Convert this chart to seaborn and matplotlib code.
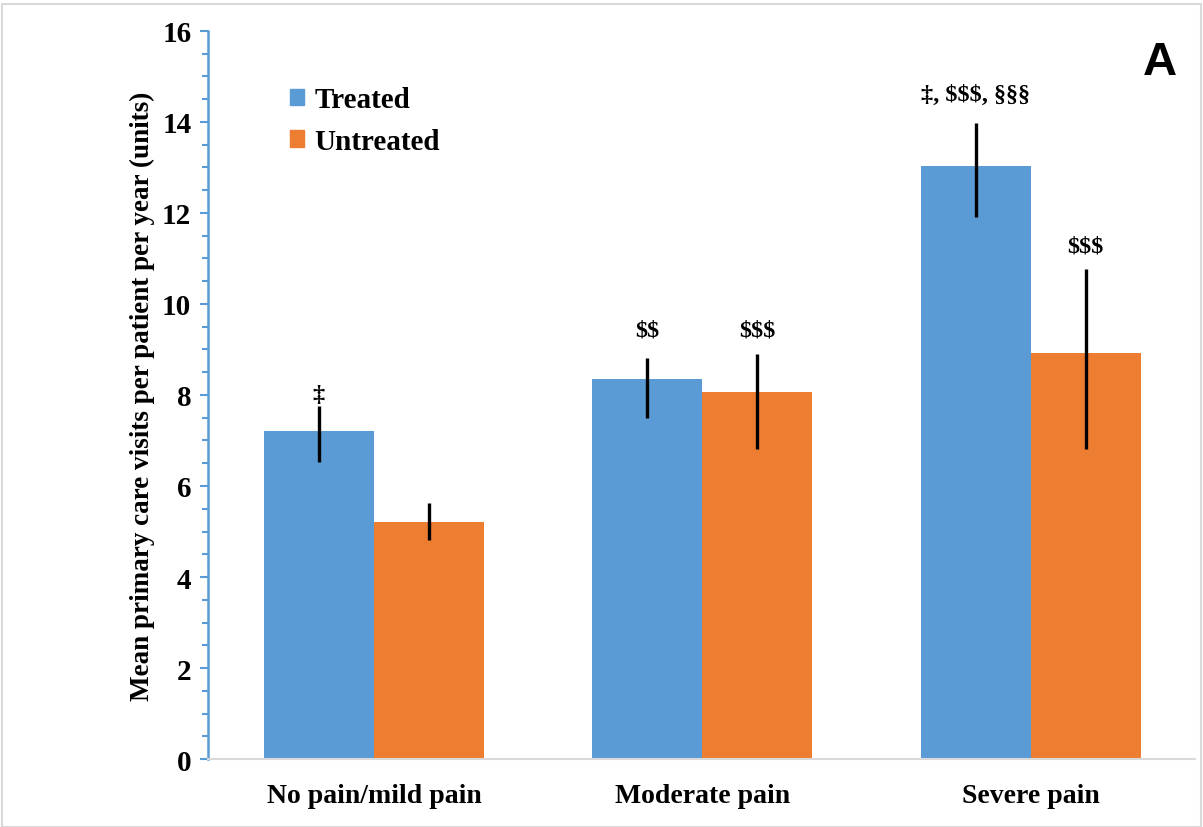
import matplotlib
matplotlib.use("Agg")
import matplotlib.pyplot as plt
import matplotlib.patches as mpatches
import seaborn as sns
import pandas as pd
import numpy as np

# ========================================================
# Data
# ========================================================
categories = ["No pain/mild pain", "Moderate pain", "Severe pain"]
groups = ["Treated", "Untreated"]
treated = [7.21, 8.35, 13.03]
untreated = [5.21, 8.07, 8.92]
# error bar ends (low, high)
treated_lo = [6.53, 7.49, 11.91]
treated_hi = [7.76, 8.81, 13.98]
untreated_lo = [4.81, 6.81, 6.81]
untreated_hi = [5.63, 8.90, 10.77]
# significance marks and the y value they sit at
treated_marks = ["‡", "$$", "‡, $$$, §§§"]
treated_mark_y = [8.02, 9.43, 14.6]
untreated_marks = ["", "$$$", "$$$"]
untreated_mark_y = [0, 9.43, 11.27]

colors = ["#5B9BD5", "#ED7D31"]

df = pd.DataFrame({
    "category": categories * 2,
    "group": [groups[0]] * 3 + [groups[1]] * 3,
    "value": treated + untreated,
})

sns.set_style("white")
plt.rcParams["font.family"] = ["Liberation Serif", "DejaVu Serif"]
plt.rcParams["font.weight"] = "bold"
plt.rcParams["text.color"] = "black"
plt.rcParams["axes.labelcolor"] = "black"
plt.rcParams["xtick.labelcolor"] = "black"
plt.rcParams["ytick.labelcolor"] = "black"

fig = plt.figure(figsize=(12.03, 8.28), dpi=100)
ax = fig.add_axes([0.1729, 0.0821, 0.8205, 0.8793])

sns.barplot(data=df, x="category", y="value", hue="group", order=categories,
            hue_order=groups, palette=colors, width=0.67, errorbar=None,
            saturation=1, ax=ax, legend=False)

los = [treated_lo, untreated_lo]
his = [treated_hi, untreated_hi]
marks = [treated_marks, untreated_marks]
mark_y = [treated_mark_y, untreated_mark_y]
for k, cont in enumerate(ax.containers):
    for i, bar in enumerate(cont):
        bar.set_edgecolor("none")
        xc = bar.get_x() + bar.get_width() / 2
        ax.plot([xc, xc], [los[k][i], his[k][i]], color="black", lw=2.4,
                solid_capstyle="butt", zorder=3)
        if marks[k][i]:
            ax.text(xc, mark_y[k][i], marks[k][i], ha="center", va="center",
                    fontsize=17.5, fontweight="bold", color="black",
                    parse_math=False)

ax.set_xlim(-0.505, 2.5)
ax.set_ylim(0, 16)
ax.set_yticks(np.arange(0, 17, 2))
ax.set_yticks(np.arange(0, 16.1, 0.5), minor=True)
ax.tick_params(axis="y", which="both", direction="out", left=True,
               color="#5B9BD5", width=1.5, labelsize=21, labelcolor="black")
ax.tick_params(axis="y", which="major", length=6, pad=6)
ax.tick_params(axis="y", which="minor", length=4)
ax.tick_params(axis="x", length=0, labelsize=20, pad=17, labelcolor="black")
for lab in ax.get_xticklabels() + ax.get_yticklabels():
    lab.set_fontweight("bold")

ax.spines["left"].set_color("#5B9BD5")
ax.spines["left"].set_linewidth(1.8)
ax.spines["bottom"].set_color("#D9D9D9")
ax.spines["bottom"].set_linewidth(1.5)
ax.spines["top"].set_visible(False)
ax.spines["right"].set_visible(False)

ax.set_xlabel("")
ax.set_ylabel("Mean primary care visits per patient per year (units)",
              fontsize=19.5, fontweight="bold", labelpad=5, color="black")

handles = [mpatches.Patch(color=c, label=g) for c, g in zip(colors, groups)]
leg = ax.legend(handles=handles, loc="upper left", bbox_to_anchor=(0.056, 0.96),
                frameon=False, handlelength=0.5, handleheight=0.5,
                handletextpad=0.35, labelspacing=0.5,
                prop={"size": 21, "weight": "bold"})
for t in leg.get_texts():
    t.set_color("black")

fig.text(0.964, 0.924, "A", fontsize=34, fontweight="bold", color="black",
         family=["Liberation Sans", "DejaVu Sans"], ha="center", va="center")

# light frame around the whole figure
fig.patches.append(mpatches.Rectangle((0.002, 0.0), 0.996, 0.994,
                                      transform=fig.transFigure, fill=False,
                                      edgecolor="#D9D9D9", lw=1.5))

fig.savefig("out.png", dpi=100)
